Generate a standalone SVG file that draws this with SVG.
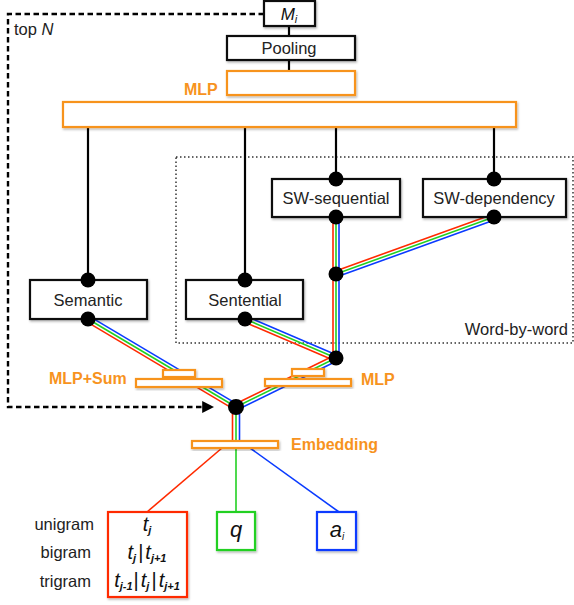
<svg xmlns="http://www.w3.org/2000/svg" width="574" height="605" viewBox="0 0 574 605">
<defs>
  <filter id="sh" x="-10%" y="-20%" width="130%" height="160%">
    <feDropShadow dx="1" dy="1.5" stdDeviation="1" flood-color="#000" flood-opacity="0.3"/>
  </filter>
  <marker id="arr" viewBox="0 0 10 10" refX="9" refY="5" markerWidth="5" markerHeight="5" markerUnits="strokeWidth" orient="auto">
    <path d="M0,0 L10,5 L0,10 z" fill="#000"/>
  </marker>
  <style>
    .box { fill: #fff; stroke: #111; stroke-width: 2.2; filter: url(#sh); }
    .obox { fill: #fff; stroke: #F7931E; stroke-width: 2.2; filter: url(#sh); }
    .lbl { font-family: "Liberation Sans", Arial, sans-serif; font-size: 16.5px; fill: #222; text-anchor: middle; }
    .side { font-family: "Liberation Sans", Arial, sans-serif; font-size: 16.5px; fill: #222; }
    .olbl { font-family: "Liberation Sans", Arial, sans-serif; font-size: 16px; font-weight: bold; fill: #F7931E; }
    .math { font-family: "Liberation Sans", Arial, sans-serif; font-size: 20px; font-style: italic; fill: #111; text-anchor: middle; }
    .sub { font-size: 11px; font-weight: bold; }
    .blk { stroke: #000; stroke-width: 2.2; fill: none; }
    .r { stroke: #FF2A00; stroke-width: 1.6; fill: none; }
    .g { stroke: #22D022; stroke-width: 1.6; fill: none; }
    .b { stroke: #0A3BFF; stroke-width: 1.6; fill: none; }
    .dot { fill: #000; }
  </style>
</defs>
<rect width="574" height="605" fill="#fff"/>

<!-- Word-by-word region -->
<g id="word-by-word">
  <rect x="176" y="157" width="397" height="186" fill="none" stroke="#333" stroke-width="1.5" stroke-dasharray="1.5 2.5"/>
  <text class="side" x="568" y="335" text-anchor="end">Word-by-word</text>
</g>

<g id="connectors">
  <!-- dashed top N feedback -->
  <path d="M264,14 H8 V407 H213" fill="none" stroke="#000" stroke-width="2.4" stroke-dasharray="5.5 3.5" marker-end="url(#arr)"/>
  <!-- black lines -->
  <line class="blk" x1="289" y1="26" x2="289" y2="36"/>
  <line class="blk" x1="289" y1="60" x2="289" y2="71"/>
  <line class="blk" x1="88" y1="127" x2="88" y2="280"/>
  <line class="blk" x1="245" y1="127" x2="245" y2="280"/>
  <line class="blk" x1="336" y1="127" x2="336" y2="179"/>
  <line class="blk" x1="494" y1="127" x2="494" y2="179"/>
  <!-- tricolor: Semantic -> junction -->
  <line class="r" x1="86.5" y1="321.6" x2="234.5" y2="409.6"/>
  <line class="g" x1="88" y1="319" x2="236" y2="407"/>
  <line class="b" x1="89.5" y1="316.4" x2="237.5" y2="404.4"/>
  <!-- Sentential -> word junction -->
  <line class="r" x1="243.8" y1="321.8" x2="334.8" y2="360.8"/>
  <line class="g" x1="245" y1="319" x2="336" y2="358"/>
  <line class="b" x1="246.2" y1="316.2" x2="337.2" y2="355.2"/>
  <!-- SW-dependency -> seq junction -->
  <line class="r" x1="493" y1="214.2" x2="335" y2="271.2"/>
  <line class="g" x1="494" y1="217" x2="336" y2="274"/>
  <line class="b" x1="495" y1="219.8" x2="337" y2="276.8"/>
  <!-- vertical SW-sequential -> word junction -->
  <line class="r" x1="333" y1="217" x2="333" y2="358"/>
  <line class="g" x1="336" y1="217" x2="336" y2="358"/>
  <line class="b" x1="339" y1="217" x2="339" y2="358"/>
  <!-- word junction -> main junction -->
  <line class="r" x1="334.7" y1="355.3" x2="234.7" y2="404.3"/>
  <line class="g" x1="336" y1="358" x2="236" y2="407"/>
  <line class="b" x1="337.3" y1="360.7" x2="237.3" y2="409.7"/>
  <!-- main junction -> embedding -->
  <line class="r" x1="232.5" y1="407" x2="232.5" y2="444"/>
  <line class="g" x1="236" y1="407" x2="236" y2="444"/>
  <line class="b" x1="239.5" y1="407" x2="239.5" y2="444"/>
  <!-- embedding -> inputs -->
  <line class="r" x1="222" y1="448" x2="147" y2="512"/>
  <line class="g" x1="236" y1="448" x2="236" y2="512"/>
  <line class="b" x1="250" y1="448" x2="339" y2="512"/>
</g>

<g id="Mi">
  <rect class="box" x="264" y="1" width="51" height="25"/>
  <text class="math" x="289" y="20" style="font-size:17px">M<tspan class="sub" style="font-weight:normal" dy="3">i</tspan></text>
</g>
<g id="pooling">
  <rect class="box" x="227" y="36" width="128" height="24"/>
  <text class="lbl" x="289" y="54">Pooling</text>
</g>
<g id="mlp-top">
  <rect class="obox" x="227" y="71" width="128" height="24"/>
  <text class="olbl" x="184" y="95">MLP</text>
</g>
<g id="mlp-wide">
  <rect class="obox" x="63" y="102" width="453" height="25"/>
</g>
<g id="top-n">
  <text class="side" x="14" y="35">top <tspan font-style="italic">N</tspan></text>
</g>
<g id="sw-sequential">
  <rect class="box" x="272" y="179" width="128" height="38"/>
  <text class="lbl" x="336" y="204">SW-sequential</text>
</g>
<g id="sw-dependency">
  <rect class="box" x="423" y="179" width="143" height="38"/>
  <text class="lbl" x="494" y="204">SW-dependency</text>
</g>
<g id="semantic">
  <rect class="box" x="30" y="280" width="117" height="39"/>
  <text class="lbl" x="88" y="306">Semantic</text>
</g>
<g id="sentential">
  <rect class="box" x="186" y="280" width="117" height="39"/>
  <text class="lbl" x="245" y="306">Sentential</text>
</g>
<g id="mlp-sum">
  <rect class="obox" x="163" y="370" width="32" height="7"/>
  <rect class="obox" x="136" y="379" width="86" height="8"/>
  <text class="olbl" x="49" y="384">MLP+Sum</text>
</g>
<g id="mlp-word">
  <rect class="obox" x="292" y="369" width="32" height="7"/>
  <rect class="obox" x="265" y="379" width="86" height="7"/>
  <text class="olbl" x="361" y="385">MLP</text>
</g>
<g id="embedding">
  <rect class="obox" x="192" y="441" width="86" height="7"/>
  <text class="olbl" x="291" y="450">Embedding</text>
</g>
<g id="ngram">
  <rect x="108" y="512" width="79" height="85" fill="#fff" stroke="#FF2A00" stroke-width="2.2" filter="url(#sh)"/>
  <text class="math" x="147" y="531">t<tspan class="sub" dy="3">j</tspan></text>
  <text class="math" x="147" y="559">t<tspan class="sub" dy="3">j</tspan><tspan dy="-3" font-style="normal" dx="2">|</tspan><tspan dx="2">t</tspan><tspan class="sub" dy="3">j+1</tspan></text>
  <text class="math" x="147" y="587">t<tspan class="sub" dy="3">j-1</tspan><tspan dy="-3" font-style="normal" dx="1">|</tspan><tspan dx="2">t</tspan><tspan class="sub" dy="3">j</tspan><tspan dy="-3" font-style="normal" dx="2">|</tspan><tspan dx="2">t</tspan><tspan class="sub" dy="3">j+1</tspan></text>
  <text class="side" x="94" y="530" text-anchor="end">unigram</text>
  <text class="side" x="91" y="558" text-anchor="end">bigram</text>
  <text class="side" x="91" y="587" text-anchor="end">trigram</text>
</g>
<g id="q">
  <rect x="217" y="512" width="38" height="38" fill="#fff" stroke="#22D022" stroke-width="2.2" filter="url(#sh)"/>
  <text class="math" x="236" y="537" style="font-size:22px">q</text>
</g>
<g id="ai">
  <rect x="317" y="512" width="39" height="38" fill="#fff" stroke="#0A3BFF" stroke-width="2.2" filter="url(#sh)"/>
  <text class="math" x="337" y="537" style="font-size:22px">a<tspan style="font-size:10px;font-weight:normal" dy="3">i</tspan></text>
</g>

<g id="ports">
  <circle class="dot" cx="336" cy="179" r="7.5"/>
  <circle class="dot" cx="494" cy="179" r="7.5"/>
  <circle class="dot" cx="336" cy="217" r="7.5"/>
  <circle class="dot" cx="494" cy="217" r="7.5"/>
  <circle class="dot" cx="88" cy="280" r="7.5"/>
  <circle class="dot" cx="245" cy="280" r="7.5"/>
  <circle class="dot" cx="88" cy="319" r="7.5"/>
  <circle class="dot" cx="245" cy="319" r="7.5"/>
  <circle class="dot" cx="336" cy="274" r="7.5"/>
  <circle class="dot" cx="336" cy="358" r="7.5"/>
  <circle class="dot" cx="236" cy="407" r="8"/>
</g>
</svg>
